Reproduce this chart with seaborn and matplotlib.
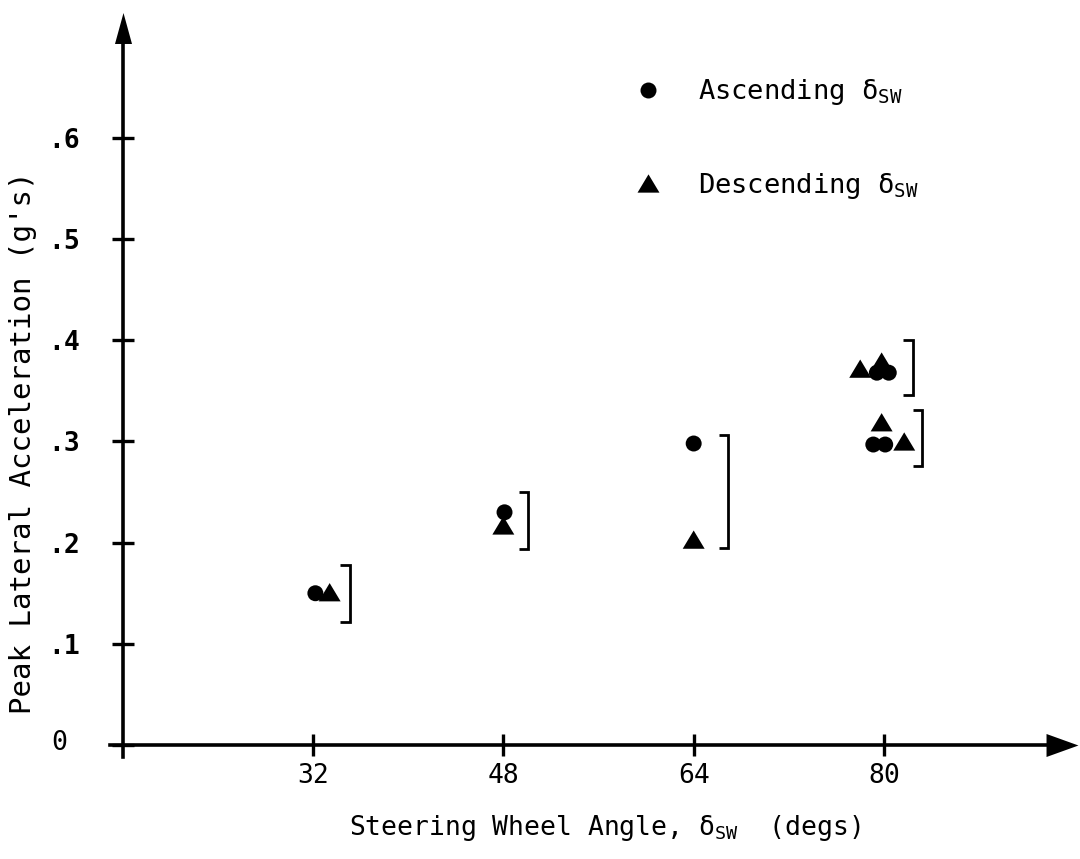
import matplotlib
matplotlib.use("Agg")
import matplotlib.pyplot as plt
from matplotlib.lines import Line2D
from matplotlib.transforms import ScaledTranslation
import pandas as pd
import seaborn as sns

# Peak lateral acceleration vs. steering wheel angle, ascending / descending sweep
asc_angle = [32.2, 48.1, 64.0, 79.4, 80.4, 79.1, 80.1]
asc_accel = [0.150, 0.230, 0.298, 0.368, 0.368, 0.297, 0.297]

desc_angle = [33.4, 48.0, 64.0, 78.0, 79.8, 79.8, 81.7]
desc_accel = [0.151, 0.217, 0.203, 0.372, 0.379, 0.319, 0.300]

# Brackets pairing the ascending/descending results at each angle
bracket_angle = [35.1, 50.1, 66.9, 82.4, 83.2]
bracket_low = [0.122, 0.194, 0.195, 0.346, 0.276]
bracket_high = [0.178, 0.250, 0.306, 0.400, 0.331]

x_ticks = [32, 48, 64, 80]
x_tick_labels = ["32", "48", "64", "80"]
y_ticks = [0.0, 0.1, 0.2, 0.3, 0.4, 0.5, 0.6]
y_tick_labels = ["0", ".1", ".2", ".3", ".4", ".5", ".6"]

sns.set_theme(style="white")
plt.rcParams["font.family"] = ["DejaVu Sans Mono", "DejaVu Sans"]
plt.rcParams["mathtext.fontset"] = "custom"
plt.rcParams["mathtext.rm"] = "DejaVu Sans Mono"
plt.rcParams["mathtext.it"] = "DejaVu Sans Mono"
plt.rcParams["mathtext.bf"] = "DejaVu Sans Mono:bold"
plt.rcParams["text.color"] = "black"

fig = plt.figure(figsize=(10.8, 8.59), dpi=100)
ax = fig.add_axes([0, 0, 1, 1])
ax.set_facecolor("white")

# wide triangle for the descending runs
tri = [(0.0, 1.0), (-1.2, -1.0), (1.2, -1.0)]

df = pd.DataFrame({
    "angle": asc_angle + desc_angle,
    "accel": asc_accel + desc_accel,
    "sweep": ["Ascending"] * len(asc_angle) + ["Descending"] * len(desc_angle),
})

sns.scatterplot(
    data=df, x="angle", y="accel", style="sweep", size="sweep",
    markers={"Ascending": "o", "Descending": tri},
    sizes={"Ascending": 132, "Descending": 250},
    color="black", linewidth=0, legend=False, ax=ax, zorder=3,
)

serif = 0.8
for bx, lo, hi in zip(bracket_angle, bracket_low, bracket_high):
    ax.plot([bx - serif, bx, bx, bx - serif], [hi, hi, lo, lo],
            color="black", lw=2.0, solid_joinstyle="miter", solid_capstyle="butt")

ax.set_xlim(5.689, 96.475)
ax.set_ylim(-0.1127, 0.7364)

# Axes drawn as arrows crossing at the origin (16 deg, 0 g)
for side in ("top", "right"):
    ax.spines[side].set_visible(False)
for side in ("left", "bottom"):
    ax.spines[side].set_color("black")
    ax.spines[side].set_linewidth(2.6)
ax.spines["left"].set_position(("data", 16))
ax.spines["bottom"].set_position(("data", 0))
ax.spines["left"].set_bounds(-0.012, 0.70)
ax.spines["bottom"].set_bounds(14.9, 94.5)

up_head = [(0.0, 1.0), (-0.55, -1.0), (0.55, -1.0)]
right_head = [(1.0, 0.0), (-1.0, 0.72), (-1.0, -0.72)]
ax.plot([16], [0.7092], marker=up_head, ms=22.3, color="black", mew=0,
        ls="none", clip_on=False)
ax.plot([94.96], [0.0], marker=right_head, ms=23, color="black", mew=0,
        ls="none", clip_on=False)

ax.set_xticks(x_ticks)
ax.set_xticklabels(x_tick_labels)
ax.set_yticks(y_ticks)
ax.set_yticklabels(y_tick_labels)
ax.tick_params(axis="x", bottom=True, direction="inout", length=16, width=2.4,
               pad=5, labelsize=19, colors="black")
ax.tick_params(axis="y", left=True, direction="inout", length=16, width=2.4,
               pad=23, labelsize=19, colors="black")
for lab in ax.get_yticklabels()[1:]:
    lab.set_fontweight("bold")
zero_label = ax.get_yticklabels()[0]
zero_label.set_transform(zero_label.get_transform()
                         + ScaledTranslation(-0.12, 0.05, fig.dpi_scale_trans))

ax.set_ylabel("Peak Lateral Acceleration (g's)", fontsize=21, color="black")
ax.yaxis.set_label_coords(37 / 1080, 1 - 443 / 859)
ax.set_xlabel(r"Steering Wheel Angle, $\delta_{\mathrm{SW}}$  (degs)",
              fontsize=19, color="black")
ax.xaxis.set_label_coords(605 / 1080, 1 - 813 / 859)

handles = [
    Line2D([0], [0], marker="o", ls="none", color="black", ms=11.5, mew=0),
    Line2D([0], [0], marker=tri, ls="none", color="black", ms=15.8, mew=0),
]
labels = [r"Ascending $\delta_{\mathrm{SW}}$", r"Descending $\delta_{\mathrm{SW}}$"]
ax.legend(handles, labels, loc="upper left", bbox_to_anchor=(634 / 1080, 1 - 77 / 859),
          frameon=False, fontsize=19.5, handlelength=1.0, handletextpad=1.35,
          labelspacing=2.35, borderpad=0, borderaxespad=0)

fig.savefig("out.png", dpi=100, facecolor="white")
